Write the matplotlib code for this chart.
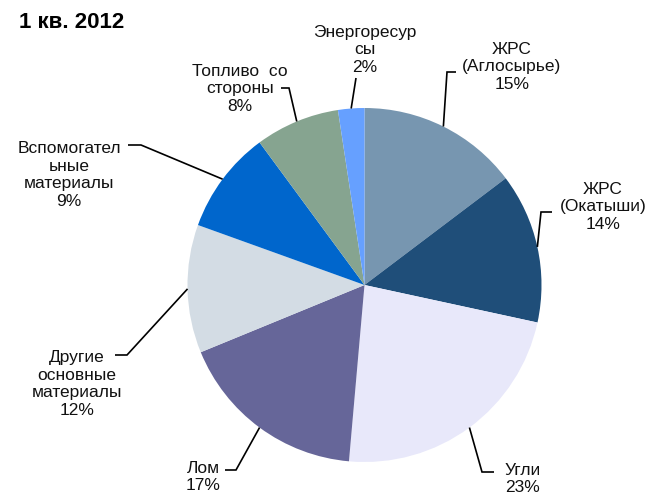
import numpy as np
import matplotlib
matplotlib.use("Agg")
import matplotlib.pyplot as plt

plt.rcParams['font.family'] = ['Liberation Sans', 'DejaVu Sans']

categories = ["ЖРС\n(Аглосырье)", "ЖРС\n(Окатыши)", "Угли", "Лом",
              "Другие\nосновные\nматериалы", "Вспомогател\nьные\nматериалы",
              "Топливо  со\nстороны", "Энергоресур\nсы"]
values = [14.7, 13.7, 23.0, 17.4, 11.7, 9.4, 7.7, 2.4]
pct_labels = ["15%", "14%", "23%", "17%", "12%", "9%", "8%", "2%"]
colors = ["#7796B0", "#1F4E79", "#E8E8FA", "#666699",
          "#D3DCE4", "#0066CC", "#86A490", "#66A0FF"]

W, H = 650, 496
fig = plt.figure(figsize=(W / 100, H / 100), dpi=100)
cx, cy, R = 364.5, 285.0, 177.0
ax = fig.add_axes([0, 0, 1, 1])

wedges, _ = ax.pie(values, colors=colors, startangle=90, counterclock=False,
                   radius=1.0, center=(0, 0), wedgeprops=dict(linewidth=0))
ax.set_xlim(-cx / R, (W - cx) / R)
ax.set_ylim(-(H - cy) / R, cy / R)
ax.set_aspect('equal')
ax.axis('off')


def P(px, py):
    return ((px - cx) / R, (cy - py) / R)


# layout: (elbow px, end px, text center px)
layout = [
    ((447, 72), (456, 72), (512, 67)),
    ((541, 212), (552, 212), (603, 207)),
    ((482, 472), (494, 472), (523, 479)),
    ((236, 470), (225, 470), (203, 477)),
    ((127, 355), (115, 355), (77, 384)),
    ((141, 145), (128, 145), (69, 175)),
    ((289, 88), (281, 88), (240, 89)),
    ((356, 78), (356, 78), (365, 50)),
]

fs = 12.5
for w, cat, pct, (elb, end, tc) in zip(wedges, categories, pct_labels, layout):
    a = np.deg2rad(0.5 * (w.theta1 + w.theta2))
    sx, sy = np.cos(a), np.sin(a)
    ex, ey = P(*elb)
    nx, ny = P(*end)
    ax.plot([sx, ex, nx], [sy, ey, ny], color='black', lw=1.2,
            solid_capstyle='butt', solid_joinstyle='miter')
    tx, ty = P(*tc)
    ax.text(tx, ty, cat + "\n" + pct, ha='center', va='center',
            fontsize=fs, linespacing=1.2, color='#111111')

fig.text(19 / W, 1 - 22 / H, "1 кв. 2012", fontsize=16, fontweight='bold',
         ha='left', va='center')

fig.savefig("out.png", dpi=100)
